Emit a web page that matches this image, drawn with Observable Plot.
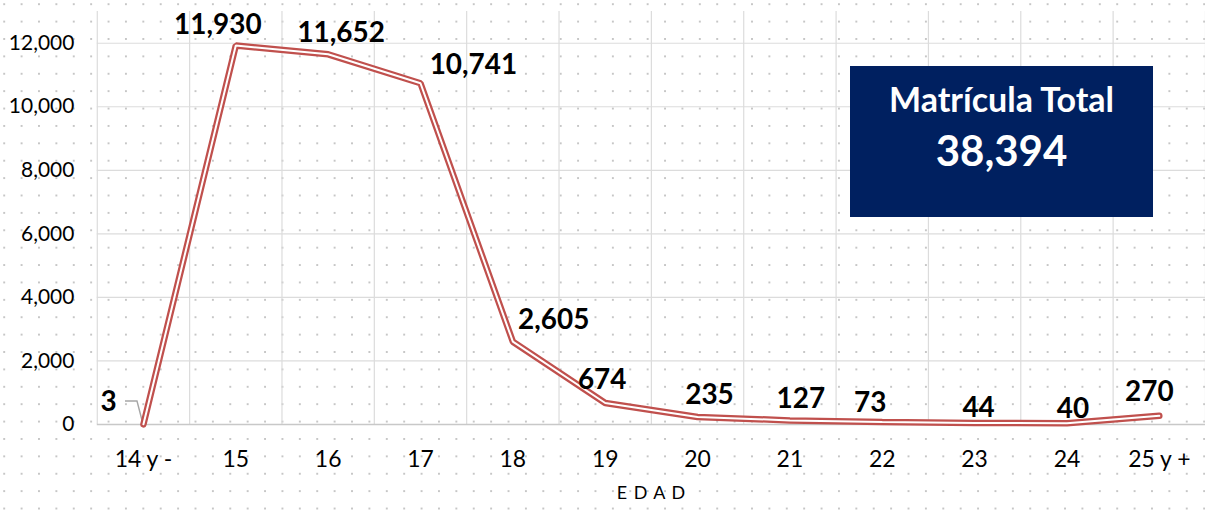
<!DOCTYPE html>
<html><head><meta charset="utf-8">
<script src="https://cdn.jsdelivr.net/npm/d3@7"></script>
<script src="https://cdn.jsdelivr.net/npm/@observablehq/plot@0.6"></script>
<style>
html,body{margin:0;padding:0;width:1205px;height:510px;overflow:hidden;background:#fff;}
#wrap{position:relative;width:1205px;height:510px;overflow:hidden;
 background-image: radial-gradient(circle, #c6c6c6 0.9px, transparent 1.4px);
 background-size:17.4px 17.4px; background-position:-4.5px -4.5px;}
#chart{position:absolute;left:0;top:0;}
#box{position:absolute;left:850px;top:66px;width:303px;height:151px;background:#002060;color:#fff;font-family:Lato,sans-serif;font-weight:bold;}
#box .t1{position:absolute;left:0;width:100%;text-align:center;top:16px;font-size:34px;line-height:34px;}
#box .t2{position:absolute;left:0;width:100%;text-align:center;top:63px;font-size:42px;line-height:42px;}
.edad text{letter-spacing:1px;}
</style></head>
<body>
<div id="wrap"><div id="chart"></div><div id="box"><div class="t1" id="boxtitle"></div><div class="t2" id="total"></div></div></div>
<script>
const categories = ["14 y -","15","16","17","18","19","20","21","22","23","24","25 y +"];
const values = [3, 11930, 11652, 10741, 2605, 674, 235, 127, 73, 44, 40, 270];
const yTicks = [0, 2000, 4000, 6000, 8000, 10000, 12000];
const boxTitle = "Matrícula Total";
const axisTitle = "E D A D";

// label offsets (layout, pixels)
const labelOffsets = [[-35,-22],[-18,-20],[13,-21],[53,-18],[41,-22],[-3,-23],[12,-22],[11,-21],[-12,-19],[4,-15],[6,-14],[-10,-24]];

const fmt = d3.format(",");
const idx = categories.map((_, i) => i);
const data = idx.map(i => ({i, cat: categories[i], v: values[i]}));
document.getElementById("boxtitle").textContent = boxTitle;
document.getElementById("total").textContent = fmt(d3.sum(values));

const leader = (index, {x, y}) => {
  const px = x(0), py = y(values[0]);
  return d3.create("svg:path")
    .attr("d", `M${px-18},${py-23}H${px-6}L${px},${py}`)
    .attr("fill", "none").attr("stroke", "#a6a6a6").attr("stroke-width", 1.5).node();
};

const labels = idx.map(i => Plot.text([data[i]], {
  x: "i", y: "v", text: d => fmt(d.v), dx: labelOffsets[i][0], dy: labelOffsets[i][1],
  fontSize: 28, fontWeight: "bold", fill: "#000"
}));

const plot = Plot.plot({
  width: 1208, height: 510,
  marginLeft: 97, marginRight: 0, marginTop: 11, marginBottom: 85,
  style: {background: "transparent", fontFamily: "Lato, sans-serif", fontSize: "20px", color: "#000", overflow: "visible"},
  x: {domain: [-0.5, categories.length - 0.5], axis: null},
  y: {domain: [0, 13000], axis: null},
  marks: [
    Plot.ruleY(yTicks.slice(1), {stroke: "#dcdcdc", strokeWidth: 1.2}),
    Plot.ruleX(d3.range(-0.5, categories.length, 1), {stroke: "#dcdcdc", strokeWidth: 1.2}),
    Plot.ruleY([0], {stroke: "#c8c8c8", strokeWidth: 1.5}),
    Plot.axisY({ticks: yTicks, tickSize: 0, tickPadding: 23, tickFormat: fmt, fontSize: 21, label: null}),
    Plot.axisX({ticks: idx, tickSize: 0, tickPadding: 26, tickFormat: i => categories[i], fontSize: 23, label: null}),
    leader,
    Plot.line(data, {x: "i", y: "v", stroke: "#c0504d", strokeWidth: 6.5, strokeLinejoin: "miter"}),
    Plot.line(data, {x: "i", y: "v", stroke: "#ffffff", strokeWidth: 2, strokeLinejoin: "miter"}),
    ...labels,
    Plot.text([axisTitle], {frameAnchor: "bottom", dy: 75, fontSize: 18, fill: "#000", className: "edad"})
  ]
});
document.getElementById("chart").appendChild(plot);
</script>
</body></html>
